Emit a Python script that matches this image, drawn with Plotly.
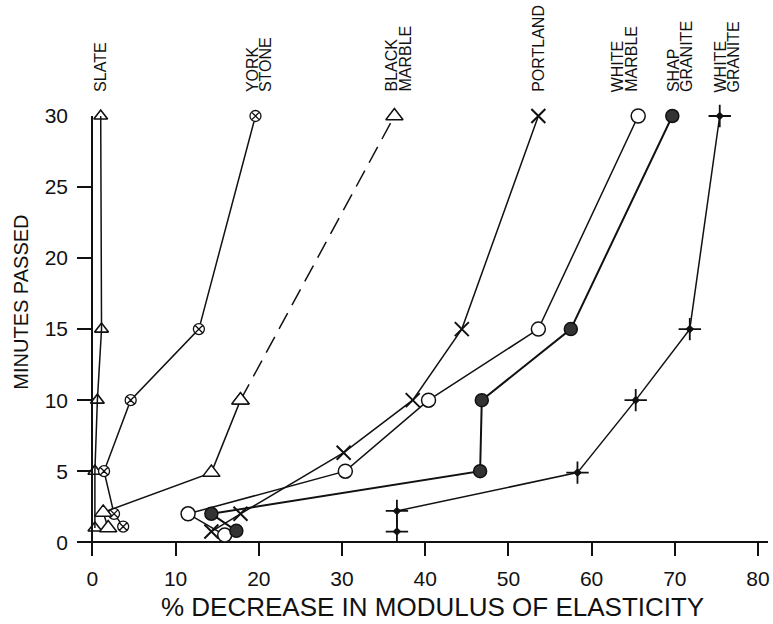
import plotly.graph_objects as go

# ---- data ----
slate_x = [0.3, 0.3, 0.6, 1.1, 1.0]
slate_y = [1.0, 5.0, 10.0, 15.0, 30.0]

york_x = [3.7, 2.6, 1.4, 4.6, 12.8, 19.6]
york_y = [1.1, 2.0, 5.0, 10.0, 15.0, 30.0]

black_x = [1.9, 1.3, 14.3, 17.8, 36.3]
black_y = [1.0, 2.1, 4.9, 10.0, 30.0]

portland_x = [14.3, 17.8, 30.2, 38.5, 44.4, 53.6]
portland_y = [0.75, 2.0, 6.3, 10.0, 15.0, 30.0]

wmarble_x = [15.9, 11.5, 30.4, 40.4, 53.6, 65.6]
wmarble_y = [0.5, 2.0, 5.0, 10.0, 15.0, 30.0]

shap_x = [17.3, 14.3, 46.6, 46.8, 57.5, 69.7]
shap_y = [0.8, 2.0, 5.0, 10.0, 15.0, 30.0]

wgran_x = [36.6, 36.6, 58.3, 65.3, 71.8, 75.4]
wgran_y = [0.75, 2.2, 4.9, 10.0, 15.0, 30.0]

x_ticks = [0, 10, 20, 30, 40, 50, 60, 70, 80]
y_ticks = [0, 5, 10, 15, 20, 25, 30]

# top labels: (lines, x centre in data units)
top_labels = [
    (["SLATE"], 0.9),
    (["YORK", "STONE"], 20.0),
    (["BLACK", "MARBLE"], 36.7),
    (["PORTLAND"], 53.6),
    (["WHITE", "MARBLE"], 63.9),
    (["SHAP", "GRANITE"], 70.6),
    (["WHITE", "GRANITE"], 76.3),
]

FONT = "Liberation Sans, Arial, Helvetica, sans-serif"
INK = "#111111"

fig = go.Figure()

def add(x, y, symbol, size, fill=INK, lw=1.5, mlw=1.5, dash="solid", mode="lines+markers"):
    fig.add_trace(go.Scatter(
        x=x, y=y, mode=mode, cliponaxis=False, showlegend=False,
        line=dict(color=INK, width=lw, dash=dash),
        marker=dict(symbol=symbol, size=size, color=fill,
                    line=dict(color=INK, width=mlw)),
    ))

# slate
add(slate_x, slate_y, "triangle-up-open", 12, mlw=1.6)
# york stone
add(york_x, york_y, "circle-x", 11, fill="white", mlw=1.3)
# black marble: dashed part and solid part
add(black_x[3:], black_y[3:], "triangle-up", 15, fill="white", dash="18px,9px")
add(black_x[:4], black_y[:4], "triangle-up", 15, fill="white")
# portland
add(portland_x, portland_y, "x-thin-open", 14, mlw=2)
# white marble
add(wmarble_x, wmarble_y, "circle", 14, fill="white")
# shap granite
add(shap_x, shap_y, "circle", 13, fill="#333333", lw=2)
# white granite
add(wgran_x, wgran_y, "cross-thin-open", 16, mlw=1.8)
add(wgran_x, wgran_y, "diamond", 5, mode="markers")

annotations = []
for lines, xc in top_labels:
    n = len(lines)
    for i, txt in enumerate(lines):
        shift = (i - (n - 1) / 2) * 13.5
        annotations.append(dict(
            x=xc, xref="x", y=1, yref="paper", yanchor="bottom", xanchor="center",
            xshift=shift, yshift=22, text=txt, textangle=-90, showarrow=False,
            font=dict(family=FONT, size=16, color=INK),
        ))

annotations.append(dict(
    x=-0.0823, xref="paper", y=0.576, yref="paper", xanchor="center", yanchor="middle",
    text="MINUTES PASSED", textangle=-90, showarrow=False,
    font=dict(family=FONT, size=20, color=INK),
))
annotations.append(dict(
    x=0.514, xref="paper", y=-0.115, yref="paper", xanchor="center", yanchor="middle",
    text="% DECREASE IN MODULUS OF ELASTICITY", showarrow=False,
    font=dict(family=FONT, size=26, color=INK),
))

fig.update_layout(
    width=773, height=624, autosize=False,
    margin=dict(l=77, r=3, t=116, b=68),
    paper_bgcolor="white", plot_bgcolor="white",
    annotations=annotations,
    font=dict(family=FONT, color=INK),
)
fig.update_xaxes(
    range=[-1.85, 81.2], tickvals=x_ticks, ticks="inside", ticklen=14,
    tickwidth=1.5, tickcolor=INK, showgrid=False, showline=False,
    zeroline=True, zerolinecolor=INK, zerolinewidth=1.5,
    tickfont=dict(family=FONT, size=21, color=INK), ticklabelstandoff=8,
)
fig.update_yaxes(
    range=[-0.97, 30.0], tickvals=y_ticks, ticks="inside", ticklen=15,
    tickwidth=1.5, tickcolor=INK, showgrid=False, showline=False,
    zeroline=True, zerolinecolor=INK, zerolinewidth=1.5,
    tickfont=dict(family=FONT, size=21, color=INK), ticklabelstandoff=8,
)

fig.write_html("out.html")
